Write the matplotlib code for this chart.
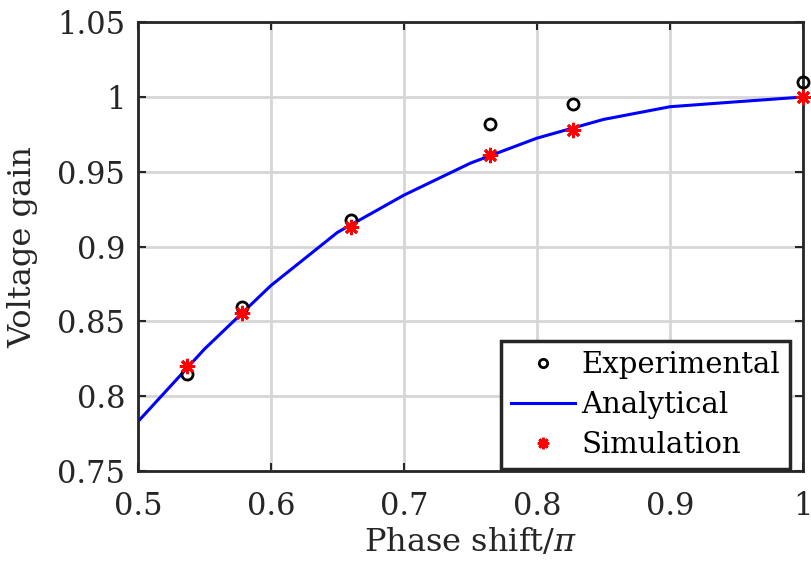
import numpy as np
import matplotlib
matplotlib.use("Agg")
import matplotlib.pyplot as plt

# data
phase_ana = [0.5, 0.55, 0.6, 0.65, 0.7, 0.75, 0.8, 0.85, 0.9, 0.95, 1.0]
gain_ana = [0.783, 0.8315, 0.874, 0.9095, 0.9344, 0.9558, 0.9725, 0.985, 0.9935, 0.9968, 1.0]

phase_meas = [0.537, 0.578, 0.660, 0.765, 0.827, 1.0]
gain_exp = [0.815, 0.860, 0.918, 0.982, 0.995, 1.010]
gain_sim = [0.820, 0.856, 0.913, 0.961, 0.978, 1.000]

xticks = [0.5, 0.6, 0.7, 0.8, 0.9, 1.0]
xtick_labels = ["0.5", "0.6", "0.7", "0.8", "0.9", "1"]
yticks = [0.75, 0.8, 0.85, 0.9, 0.95, 1.0, 1.05]
ytick_labels = ["0.75", "0.8", "0.85", "0.9", "0.95", "1", "1.05"]

plt.rcParams['font.family'] = ['DejaVu Serif']
plt.rcParams['mathtext.fontset'] = 'dejavuserif'
dark = '#262626'
asterisk = (8, 2, 0)

fig = plt.figure(figsize=(8.11, 5.69), dpi=100)
ax = fig.add_axes([0.170, 0.172, 0.820, 0.789])

ax.plot(phase_meas, gain_exp, 'o', mfc='none', mec='black', mew=2, ms=8,
        label='Experimental', zorder=3, clip_on=False)
ax.plot(phase_ana, gain_ana, '-', color='#0000ff', lw=2.2, label='Analytical', zorder=2)
ax.plot(phase_meas, gain_sim, marker=asterisk, ls='none', color='red', mec='red',
        ms=11, mew=2, label='Simulation', zorder=4, clip_on=False)

ax.set_xlim(0.5, 1.0)
ax.set_ylim(0.75, 1.05)
ax.set_xticks(xticks)
ax.set_xticklabels(xtick_labels)
ax.set_yticks(yticks)
ax.set_yticklabels(ytick_labels)
ax.tick_params(direction='in', length=6, width=1.5, labelsize=22, colors=dark,
               top=True, right=True)
ax.tick_params(axis='x', pad=14)
ax.tick_params(axis='y', pad=9)
ax.grid(True, color='#d6d6d6', lw=2)
ax.set_axisbelow(True)
for s in ax.spines.values():
    s.set_linewidth(2)
    s.set_color(dark)

ax.set_xlabel(r'Phase shift/$\pi$', fontsize=23, color=dark, labelpad=4)
ax.set_ylabel('Voltage gain', fontsize=23, color=dark, labelpad=14)

leg = ax.legend(loc='lower right', bbox_to_anchor=(790 / 811, 100 / 569),
                bbox_transform=fig.transFigure, borderaxespad=0,
                fontsize=21, frameon=True, fancybox=False,
                edgecolor=dark, framealpha=1,
                handlelength=2.2, handletextpad=0.2, borderpad=0.35,
                labelspacing=0.4, markerscale=0.75)
leg.get_frame().set_linewidth(2.5)

fig.savefig('out.png', dpi=100)
